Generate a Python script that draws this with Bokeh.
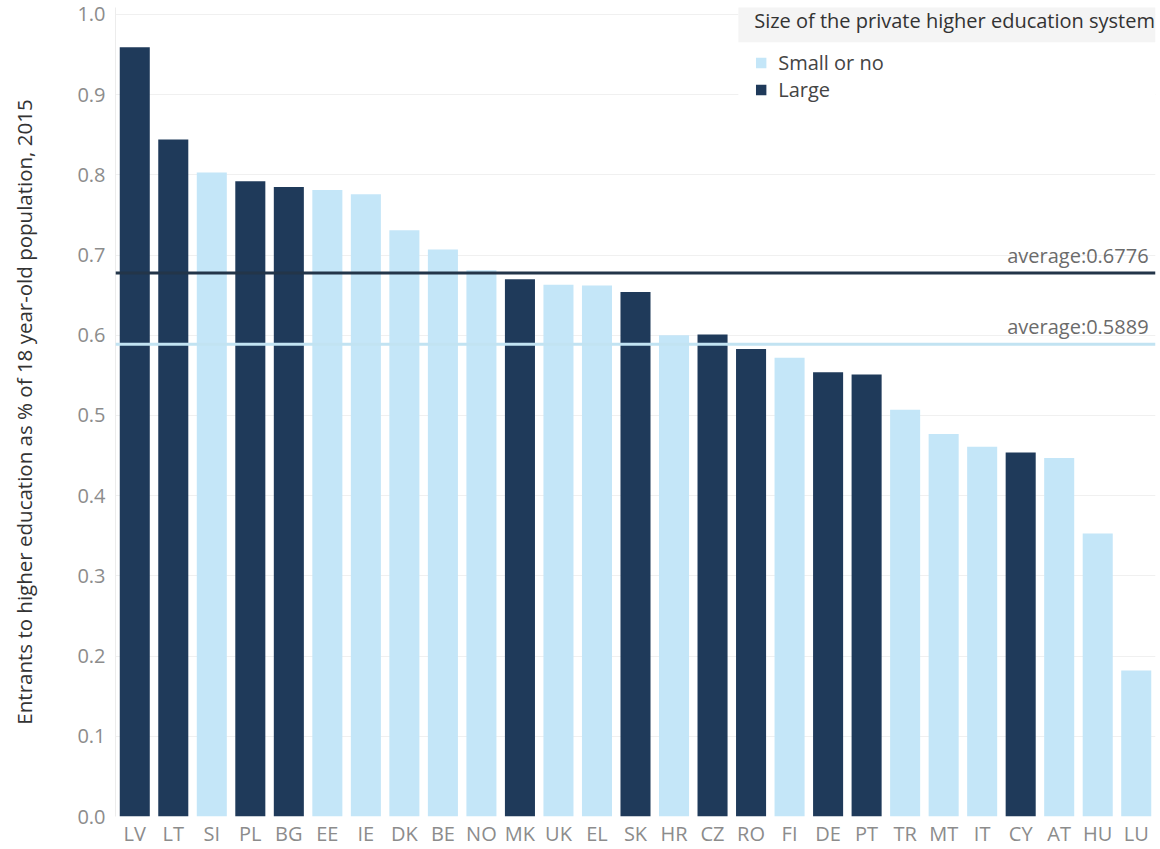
from bokeh.plotting import figure
from bokeh.models import (ColumnDataSource, FactorRange, Range1d, Span, Label, Legend,
                          LegendItem, BoxAnnotation, FixedTicker, PrintfTickFormatter)
from bokeh.embed import file_html
from bokeh.resources import INLINE

countries = ["LV", "LT", "SI", "PL", "BG", "EE", "IE", "DK", "BE", "NO", "MK", "UK", "EL", "SK",
             "HR", "CZ", "RO", "FI", "DE", "PT", "TR", "MT", "IT", "CY", "AT", "HU", "LU"]
values = [0.959, 0.844, 0.803, 0.792, 0.785, 0.781, 0.776, 0.731, 0.707, 0.681, 0.670, 0.663,
          0.662, 0.654, 0.600, 0.601, 0.583, 0.572, 0.554, 0.551, 0.507, 0.477, 0.461, 0.454,
          0.447, 0.353, 0.182]
sizes = ["Large", "Large", "Small or no", "Large", "Large", "Small or no", "Small or no",
         "Small or no", "Small or no", "Small or no", "Large", "Small or no", "Small or no",
         "Large", "Small or no", "Large", "Large", "Small or no", "Large", "Large",
         "Small or no", "Small or no", "Small or no", "Large", "Small or no", "Small or no",
         "Small or no"]
groups = ["Small or no", "Large"]
averages = [0.5889, 0.6776]
y_ticks = [0.0, 0.1, 0.2, 0.3, 0.4, 0.5, 0.6, 0.7, 0.8, 0.9, 1.0]

group_colors = {"Small or no": "#c4e6f8", "Large": "#1f3a5a"}
line_colors = {"Small or no": "#c2e3f2", "Large": "#233549"}
FONT = "Open Sans"

p = figure(width=1158, height=849, output_backend="svg", toolbar_location=None,
           x_range=FactorRange(*countries, range_padding=0, factor_padding=0),
           y_range=Range1d(0, 1.0087),
           min_border_left=115, min_border_right=3, min_border_top=7, min_border_bottom=0)
p.outline_line_color = None
p.background_fill_color = "white"

# grid
p.xgrid.grid_line_color = None
p.ygrid.grid_line_color = "#f0f0f0"
p.ygrid.grid_line_width = 1

# axes
p.yaxis.ticker = FixedTicker(ticks=y_ticks)
p.yaxis.formatter = PrintfTickFormatter(format="%.1f")
p.yaxis.major_tick_line_color = None
p.yaxis.minor_tick_line_color = None
p.yaxis.major_tick_out = 0
p.yaxis.axis_line_color = "#ececec"
p.yaxis.major_label_text_font = FONT
p.yaxis.major_label_text_font_size = "20px"
p.yaxis.major_label_text_color = "#8c8c8c"
p.yaxis.major_label_standoff = 10
p.yaxis.axis_label = "Entrants to higher education as % of 18 year-old population, 2015"
p.yaxis.axis_label_text_font = FONT
p.yaxis.axis_label_text_font_size = "20.5px"
p.yaxis.axis_label_text_font_style = "normal"
p.yaxis.axis_label_text_color = "#333333"
p.yaxis.axis_label_standoff = 36

p.xaxis.axis_line_color = None
p.xaxis.major_tick_line_color = None
p.xaxis.minor_tick_line_color = None
p.xaxis.major_tick_out = 0
p.xaxis.major_label_text_font = FONT
p.xaxis.major_label_text_font_size = "20px"
p.xaxis.major_label_text_color = "#8c8c8c"
p.xaxis.major_label_standoff = 3

# bars, one renderer per group
renderers = {}
for g in groups:
    idx = [i for i, s in enumerate(sizes) if s == g]
    src = ColumnDataSource(dict(country=[countries[i] for i in idx],
                                value=[values[i] for i in idx]))
    renderers[g] = p.vbar(x="country", top="value", width=0.78, source=src,
                          fill_color=group_colors[g], line_color=None)

# average lines and labels
for g, avg in zip(groups, averages):
    p.add_layout(Span(location=avg, dimension="width", line_color=line_colors[g],
                      line_width=3))
    p.add_layout(Label(x=len(countries) - 0.18, y=avg, y_offset=4, text=f"average:{avg}",
                       text_align="right", text_baseline="bottom", text_font=FONT,
                       text_font_size="20px", text_color="#6b6b6b"))

# legend background and title band
n = len(countries)
p.add_layout(BoxAnnotation(left=n - 10.83, right=n, bottom=0.88, top=1.02,
                           fill_color="white", fill_alpha=1, line_color=None))
p.add_layout(BoxAnnotation(left=n - 10.83, right=n, bottom=0.9654, top=1.02,
                           fill_color="#f4f4f4", fill_alpha=1, line_color=None))

legend = Legend(items=[LegendItem(label=g, renderers=[renderers[g]]) for g in groups],
                title="Size of the private higher education system",
                location="top_right", margin=0, padding=5,
                title_text_font=FONT, title_text_font_size="20px",
                title_text_font_style="normal", title_text_color="#333333",
                title_standoff=15,
                label_text_font=FONT, label_text_font_size="20px",
                label_text_color="#444444",
                glyph_width=13, glyph_height=13, label_standoff=11, spacing=0,
                label_height=22, border_line_color=None, background_fill_alpha=0)
p.add_layout(legend, "center")

open("out.html", "w").write(file_html(p, INLINE))
